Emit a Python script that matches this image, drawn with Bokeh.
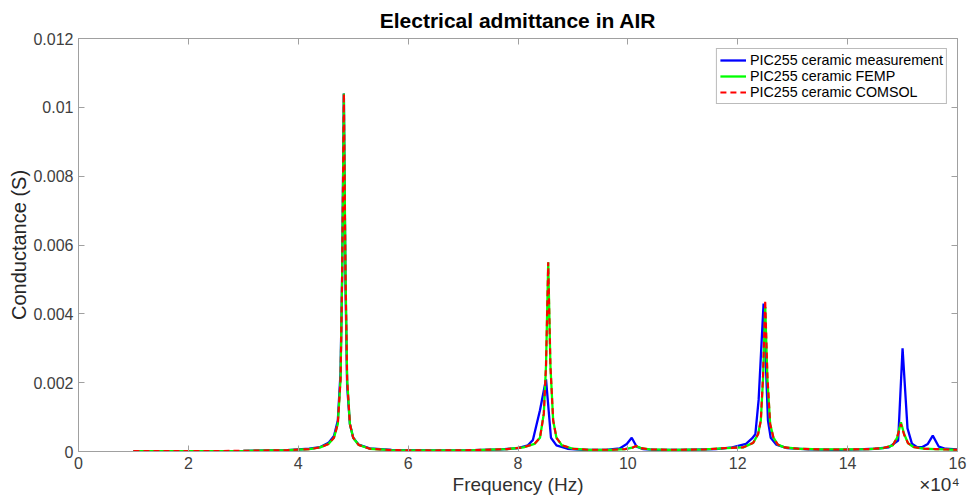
from bokeh.plotting import figure
from bokeh.models import (LinearAxis, FixedTicker, CustomJSTickFormatter, Range1d,
                          Legend, LegendItem)
from bokeh.embed import file_html
from bokeh.resources import INLINE

# ---------------- data ----------------
freq_meas = [10000, 20000, 30000, 38000, 42000, 44000, 45500, 46500, 47200, 47700,
             48000, 48300, 48600, 48900, 49400, 50000, 51000, 53000, 57000, 65000,
             72000, 77000, 80000, 81800, 82700, 84000, 85100, 86000, 87000, 89000,
             92000, 96000, 98500, 99800, 100700, 101600, 102800, 105000, 110000, 116000,
             119000, 121500, 122600, 123200, 123800, 124700, 125500, 126000, 127000, 129000,
             133000, 138000, 142000, 145000, 147500, 149200, 150000, 150900, 151700, 152600,
             153600, 154600, 155500, 156600, 157800, 160000]
g_meas = [0.00001, 0.00001, 0.00002, 0.00004, 0.00008, 0.00013, 0.00025, 0.00045, 0.0009, 0.0023,
          0.0052, 0.0104, 0.0048, 0.0019, 0.0008, 0.0004, 0.0002, 0.00009, 0.00005, 0.00003,
          0.00004, 0.00006, 0.0001, 0.00018, 0.00033, 0.0012, 0.0021, 0.0004, 0.00018, 0.00008,
          0.00005, 0.00005, 0.00009, 0.00022, 0.0004, 0.00014, 0.00007, 0.00005, 0.00005, 0.00007,
          0.00012, 0.00022, 0.00038, 0.0005, 0.0015, 0.0043, 0.0009, 0.0004, 0.0002, 0.0001,
          0.00006, 0.00005, 0.00006, 0.00008, 0.00012, 0.00032, 0.0030, 0.00067, 0.00023, 0.00013,
          0.00013, 0.00022, 0.00046, 0.00014, 0.00008, 0.00006]

freq_sim = [10000, 20000, 30000, 38000, 42000, 44000, 45500, 46500, 47200, 47700,
            48000, 48300, 48600, 48900, 49400, 50000, 51000, 53000, 57000, 65000,
            72000, 78000, 81000, 83000, 84000, 84700, 85100, 85500, 85900, 86400,
            87000, 88000, 90000, 93000, 97000, 99500, 100800, 101500, 102300, 104000,
            108000, 114000, 118000, 121000, 122800, 123700, 124200, 124600, 125000, 125400,
            125900, 126500, 127300, 128500, 131000, 135000, 140000, 144000, 146500, 148200,
            149000, 149700, 150300, 151000, 152000, 154000, 156000, 158000, 160000]
g_femp = [0.00001, 0.00001, 0.00002, 0.00004, 0.00007, 0.00012, 0.00022, 0.0004, 0.0008, 0.0021,
          0.0052, 0.0104, 0.0052, 0.0021, 0.0008, 0.0004, 0.00019, 0.00008, 0.00004, 0.00003,
          0.00004, 0.00007, 0.00012, 0.00022, 0.0004, 0.0011, 0.0025, 0.0055, 0.0025, 0.0009,
          0.0004, 0.00018, 0.00008, 0.00005, 0.00005, 0.00007, 0.00011, 0.00016, 0.0001, 0.00006,
          0.00005, 0.00006, 0.0001, 0.00012, 0.00025, 0.0005, 0.0009, 0.0021, 0.0042, 0.0021,
          0.0008, 0.0004, 0.0002, 0.00012, 0.00008, 0.00006, 0.00006, 0.00007, 0.0001, 0.00018,
          0.0004, 0.00085, 0.0005, 0.00024, 0.00013, 0.00008, 0.00007, 0.00006, 0.00005]
g_comsol = [0.00001, 0.00001, 0.00002, 0.00004, 0.00007, 0.00012, 0.00022, 0.0004, 0.0008, 0.0021,
            0.0052, 0.0104, 0.0052, 0.0021, 0.0008, 0.0004, 0.00019, 0.00008, 0.00004, 0.00003,
            0.00004, 0.00007, 0.00012, 0.00022, 0.0004, 0.0011, 0.0025, 0.0055, 0.0025, 0.0009,
            0.0004, 0.00018, 0.00008, 0.00005, 0.00005, 0.00007, 0.00011, 0.00016, 0.0001, 0.00006,
            0.00005, 0.00006, 0.0001, 0.00012, 0.00025, 0.0005, 0.0009, 0.0022, 0.0044, 0.0022,
            0.0008, 0.0004, 0.0002, 0.00012, 0.00008, 0.00006, 0.00006, 0.00007, 0.0001, 0.00018,
            0.0004, 0.0008, 0.00048, 0.00024, 0.00013, 0.00008, 0.00007, 0.00006, 0.00005]

x_ticks = [0, 20000, 40000, 60000, 80000, 100000, 120000, 140000, 160000]
y_ticks = [0, 0.002, 0.004, 0.006, 0.008, 0.01, 0.012]
series_labels = ["PIC255 ceramic measurement", "PIC255 ceramic FEMP", "PIC255 ceramic COMSOL"]
x_title = "Frequency (Hz)"
x_exponent = "×10⁴"
x_title_pos = [80000, 156700]   # centre of x title, centre of exponent note

FONT = "Liberation Sans"
AXIS_GRAY = "#a0a0a0"
LABEL_GRAY = "#404040"

p = figure(width=971, height=497, output_backend="svg", toolbar_location=None,
           x_range=Range1d(0, 160000), y_range=Range1d(0, 0.012),
           min_border_left=78, min_border_right=14, min_border_top=38, min_border_bottom=46)
p.xgrid.visible = False
p.ygrid.visible = False
p.outline_line_color = AXIS_GRAY
p.background_fill_color = "white"
p.border_fill_color = "white"

p.title.text = "Electrical admittance in AIR"
p.title.align = "center"
p.title.text_font = FONT
p.title.text_font_size = "21px"
p.title.text_font_style = "bold"
p.title.text_color = "black"
p.title.standoff = 13

xfmt = CustomJSTickFormatter(code="return (tick/10000).toFixed(0);")
yfmt = CustomJSTickFormatter(code="return tick === 0 ? '0' : String(parseFloat(tick.toFixed(4)));")
blank = CustomJSTickFormatter(code="return '';")

def style(ax):
    ax.axis_line_color = AXIS_GRAY
    ax.major_tick_line_color = AXIS_GRAY
    ax.major_tick_in = 6
    ax.major_tick_out = 0
    ax.minor_tick_line_color = None
    ax.major_label_text_color = LABEL_GRAY
    ax.major_label_text_font = FONT
    ax.major_label_text_font_size = "16px"
    ax.axis_label_text_font = FONT
    ax.axis_label_text_font_size = "20px"
    ax.axis_label_text_font_style = "normal"
    ax.axis_label_text_color = "#262626"

xa = p.xaxis[0]
xa.ticker = FixedTicker(ticks=x_ticks)
xa.formatter = xfmt
style(xa)
xa.major_label_standoff = 5

# second row under the x axis: the axis title and the x10^4 exponent note
xa2 = LinearAxis(ticker=FixedTicker(ticks=x_title_pos),
                 formatter=CustomJSTickFormatter(
                     args=dict(t=x_title, e=x_exponent, c=x_title_pos[0]),
                     code="return tick <= c ? t : e;"))
xa2.axis_line_color = None
xa2.major_tick_line_color = None
xa2.minor_tick_line_color = None
xa2.major_tick_in = 0
xa2.major_tick_out = 0
xa2.major_label_standoff = 2
xa2.major_label_text_font = FONT
xa2.major_label_text_font_size = "19px"
xa2.major_label_text_color = "#303030"
p.add_layout(xa2, "below")

ya = p.yaxis[0]
ya.ticker = FixedTicker(ticks=y_ticks)
ya.formatter = yfmt
ya.axis_label = "Conductance (S)"
style(ya)
ya.major_label_standoff = 5
ya.axis_label_standoff = 0

top = LinearAxis(ticker=FixedTicker(ticks=x_ticks), formatter=blank)
style(top)
top.major_label_text_font_size = "0px"
top.major_label_standoff = 0
p.add_layout(top, "above")

right = LinearAxis(ticker=FixedTicker(ticks=y_ticks), formatter=blank)
style(right)
right.major_label_text_font_size = "0px"
right.major_label_standoff = 0
p.add_layout(right, "right")

r_meas = p.line(freq_meas, g_meas, line_color="#0000ff", line_width=2.3)
r_femp = p.line(freq_sim, g_femp, line_color="#00ff00", line_width=2.3)
r_comsol = p.line(freq_sim, g_comsol, line_color="#ff0000", line_width=2.1, line_dash="6 4")

legend = Legend(items=[LegendItem(label=series_labels[0], renderers=[r_meas]),
                       LegendItem(label=series_labels[1], renderers=[r_femp]),
                       LegendItem(label=series_labels[2], renderers=[r_comsol])],
                location="top_right", margin=10, padding=3, spacing=0,
                label_text_font=FONT, label_text_font_size="14.3px", label_text_color="black",
                glyph_width=26, glyph_height=16, label_height=16, label_standoff=4,
                border_line_color="#777777", border_line_width=1,
                background_fill_color="white", background_fill_alpha=1.0)
p.add_layout(legend)

open("out.html", "w").write(file_html(p, INLINE))
